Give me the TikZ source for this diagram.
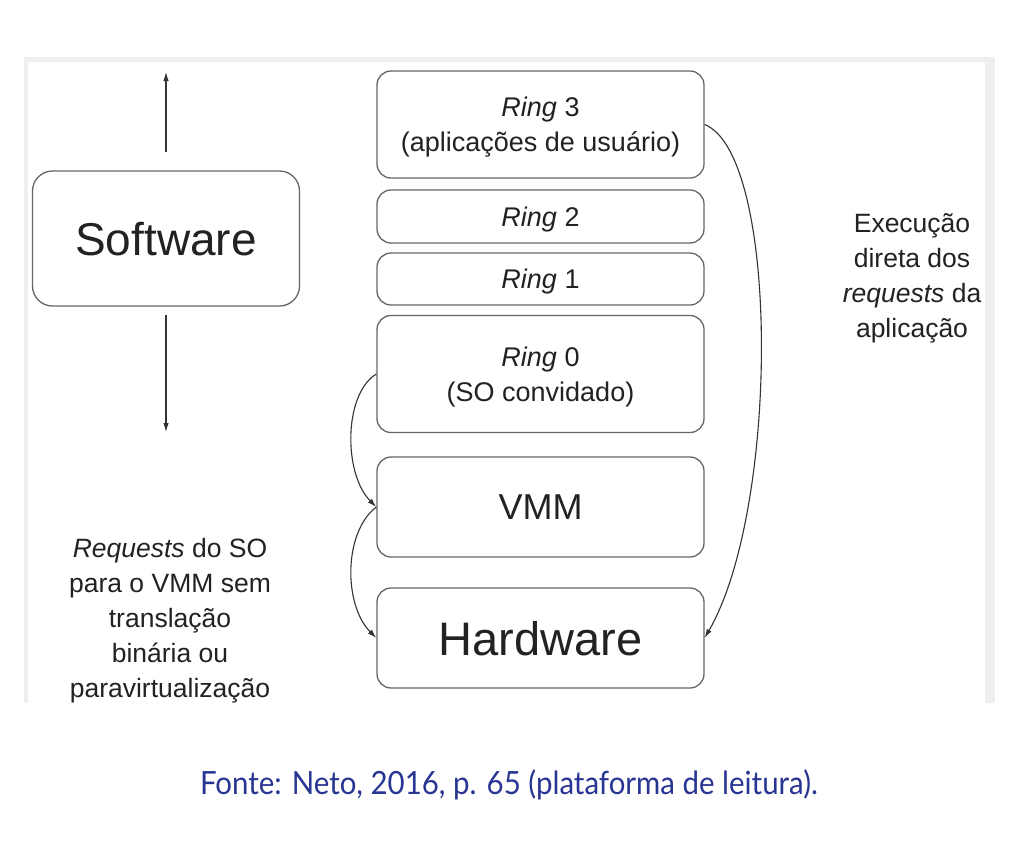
\documentclass[tikz,border=0pt]{standalone}
\usepackage{fontspec}
\setmainfont{Liberation Sans}
\newfontfamily\captionfont[FakeStretch=0.92]{Lato}
\usetikzlibrary{arrows.meta}
\definecolor{boxgray}{HTML}{666666}
\definecolor{txtgray}{HTML}{222222}
\definecolor{linegray}{HTML}{333333}
\definecolor{fontblue}{HTML}{283593}
\definecolor{framegray}{HTML}{EFEFEF}

\begin{document}
\begin{tikzpicture}[x=1pt,y=-1pt,
        layerbox/.style={draw=boxgray,line width=1.3pt,rounded corners=14pt,minimum width=327pt,
            fill=white,text=txtgray,align=center,text depth=0pt,font=\fontsize{27}{35}\selectfont},
        arrowline/.style={draw=linegray,line width=1.1pt,-{Latex[length=9pt,width=5.5pt]}},
        plaintext/.style={text=txtgray,align=center,font=\fontsize{26.5}{35}\selectfont}]
            % page and frame
            \useasboundingbox[fill=white] (0,0) rectangle (1024,860);
            \fill[framegray] (24,57) rectangle (995,703);
            \fill[white] (28,62) rectangle (985,703);
            % layers
            \node[layerbox,minimum width=267pt,minimum height=135pt,rounded corners=20pt,
                font=\fontsize{46}{50}\selectfont] (soft) at (166,238.5) {Software};
            \node[layerbox,minimum height=107pt] (ring3) at (540.5,124.5) {\textit{Ring} 3\\(aplicações de usuário)};
            \node[layerbox,minimum height=53pt] (ring2) at (540.5,216.5) {\textit{Ring} 2};
            \node[layerbox,minimum height=52pt] (ring1) at (540.5,279) {\textit{Ring} 1};
            \node[layerbox,minimum height=117pt] (ring0) at (540.5,374) {\textit{Ring} 0\\(SO convidado)};
            \node[layerbox,minimum height=100pt,font=\fontsize{36}{40}\selectfont] (vmm) at (540.5,507) {VMM};
            \node[layerbox,minimum height=100pt,font=\fontsize{47}{50}\selectfont] (hw) at (540.5,638) {Hardware};
            % software arrows
            \coordinate (softup) at (166,152);
            \coordinate (uptip) at (166,72);
            \coordinate (softdown) at (166,315);
            \coordinate (downtip) at (166,432);
            \draw[arrowline] (softup) -- (uptip);
            \draw[arrowline] (softdown) -- (downtip);
            % request paths
            \draw[arrowline] (ring0.west) .. controls +(-33,20) and +(-33,-33) .. (vmm.west);
            \draw[arrowline] (vmm.west) .. controls +(-33,25) and +(-33,-33) .. (hw.west);
            \draw[arrowline] (ring3.east) .. controls +(75,30) and +(75,-130) .. (hw.east);
            % labels
            \node[plaintext] (exec) at (912,278) {Execução\\direta dos\\\textit{requests} da\\aplicação};
            \node[plaintext] (osreq) at (170,621) {\textit{Requests} do SO\\para o VMM sem\\translação\\binária ou\\paravirtualização};
            \node[text=fontblue,font=\captionfont\fontsize{32}{34}\selectfont] (source) at (509,785) {Fonte: Neto, 2016, p. 65 (plataforma de leitura).};
        \end{tikzpicture}
\end{document}
